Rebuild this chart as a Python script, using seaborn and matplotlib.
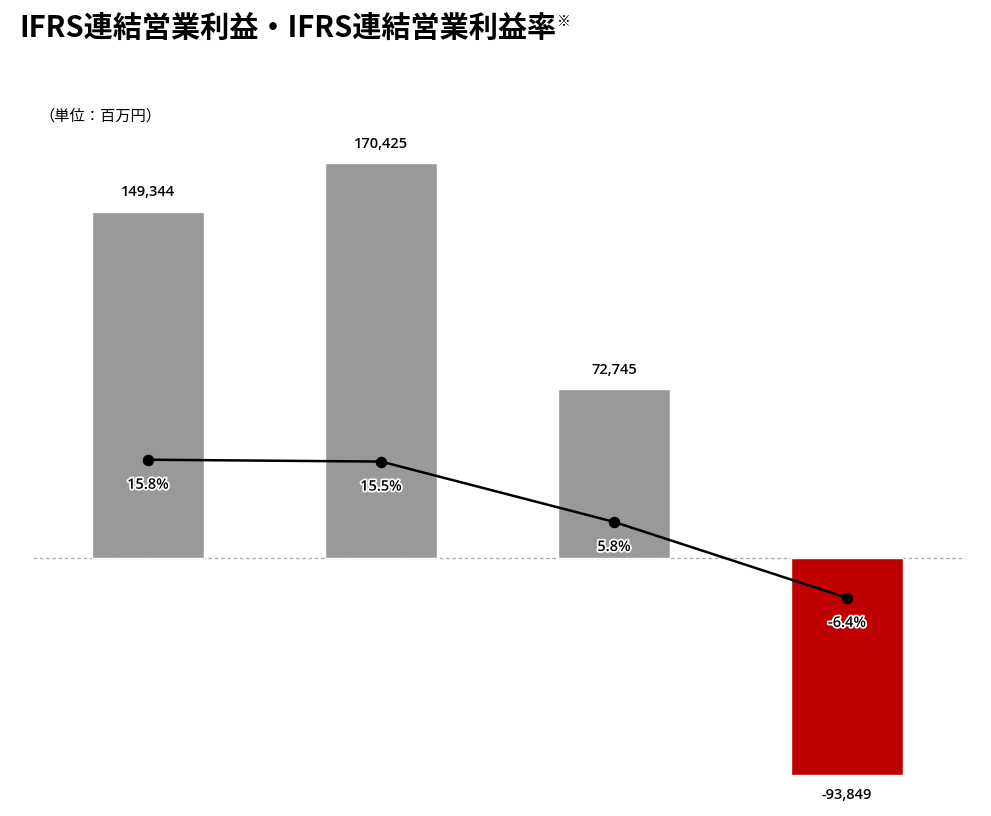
import numpy as np
import pandas as pd
import matplotlib
matplotlib.use('Agg')
import matplotlib.pyplot as plt
import matplotlib.patheffects as pe
import seaborn as sns

# data
periods = ['FY1', 'FY2', 'FY3', 'FY4']
profit = [149344, 170425, 72745, -93849]
margin = [15.8, 15.5, 5.8, -6.4]
profit_labels = ['149,344', '170,425', '72,745', '-93,849']
margin_labels = ['15.8%', '15.5%', '5.8%', '-6.4%']
bar_colors = ['#999999', '#999999', '#999999', '#C00000']

sns.set_theme(style='white')
plt.rcParams['font.family'] = ['Noto Sans CJK JP', 'DejaVu Sans']
plt.rcParams['text.color'] = 'black'
num_font = ['Open Sans', 'Noto Sans CJK JP', 'DejaVu Sans']

df = pd.DataFrame({'period': periods, 'profit': profit, 'margin': margin})

fig = plt.figure(figsize=(9.91, 8.16), dpi=100)
ax = fig.add_axes([0.0333, 0.0196, 0.9405, 0.8211])

sns.barplot(data=df, x='period', y='profit', hue='period', palette=bar_colors,
            legend=False, width=0.478, saturation=1, ax=ax)
ax.set_xlim(-0.494, 3.506)
ax.set_ylim(-104454, 184738)
ax.axhline(0, color='#aaaaaa', lw=0.9, ls=(0, (3, 2)), zorder=0)

for i, (v, lab) in enumerate(zip(profit, profit_labels)):
    if v >= 0:
        ax.annotate(lab, (i, v), xytext=(0, 9), textcoords='offset points',
                    ha='center', va='bottom', fontsize=10.5, color='black',
                    family=num_font, fontweight='semibold')
    else:
        ax.annotate(lab, (i, v), xytext=(0, -9), textcoords='offset points',
                    ha='center', va='top', fontsize=10.5, color='black',
                    family=num_font, fontweight='semibold')

ax2 = ax.twinx()
sns.lineplot(x=np.arange(len(margin)), y=margin, ax=ax2, color='black', lw=1.8,
             marker='o', markersize=7.5, markeredgecolor='black')
ax2.set_ylim(-38.9, 68.8)
for i, (m, lab) in enumerate(zip(margin, margin_labels)):
    ax2.annotate(lab, (i, m), xytext=(0, -13), textcoords='offset points',
                 ha='center', va='top', fontsize=10.5, color='black',
                 family=num_font, fontweight='semibold',
                 path_effects=[pe.withStroke(linewidth=2.5, foreground='white')])

for a in (ax, ax2):
    a.set_xlabel('')
    a.set_ylabel('')
    a.set_xticks([])
    a.set_yticks([])
    for s in a.spines.values():
        s.set_visible(False)

title = fig.text(0.02, 0.955, 'IFRS連結営業利益・IFRS連結営業利益率', fontsize=21,
                 fontweight='bold', ha='left', va='baseline', color='black')
fig.canvas.draw()
bb = title.get_window_extent()
fig.text((bb.x1 + 0) / fig.bbox.width, (bb.y1 - 13) / fig.bbox.height, '※',
         fontsize=10, ha='left', va='baseline', color='black')
fig.text(0.040, 0.852, '（単位：百万円）', fontsize=11, ha='left', va='baseline',
         color='black')

fig.savefig('out.png', dpi=100)
